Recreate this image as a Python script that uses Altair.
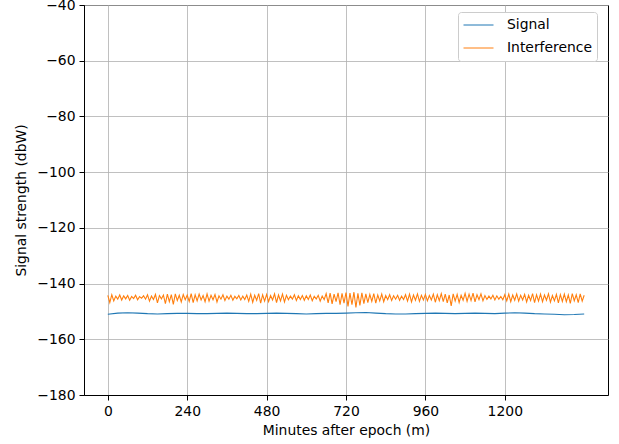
import altair as alt
import pandas as pd

# Signal sampled every 30 minutes (dBW)
signal_vals = [
    -151.0, -150.6, -150.5, -150.6, -150.8, -150.9, -150.8, -150.7, -150.7, -150.8,
    -150.8, -150.7, -150.6, -150.7, -150.8, -150.8, -150.7, -150.6, -150.7, -150.8,
    -150.9, -150.8, -150.7, -150.7, -150.6, -150.5, -150.4, -150.6, -150.8, -150.9,
    -150.9, -150.8, -150.7, -150.6, -150.7, -150.8, -150.7, -150.6, -150.7, -150.8,
    -150.6, -150.5, -150.6, -150.8, -150.9, -151.0, -151.2, -151.1, -150.9,
]
signal_step = 30

# Interference sampled every 6 minutes (dBW)
interf_vals = [
    -144.2, -146.8, -144.0, -146.2, -144.5, -145.6, -144.1, -145.9, -144.4, -145.5,
    -144.3, -146.0, -144.6, -145.4, -144.2, -145.8, -144.7, -145.3, -144.4, -145.6,
    -144.0, -146.3, -144.5, -145.7, -143.9, -146.9, -144.3, -145.5, -144.1, -147.2,
    -143.8, -146.5, -144.0, -147.5, -143.7, -146.1, -144.2, -146.6, -143.9, -145.8,
    -144.1, -146.4, -143.6, -146.8, -144.0, -146.2, -143.8, -145.9, -144.3, -146.5,
    -143.7, -146.3, -144.2, -145.8, -143.9, -146.6, -144.4, -145.6, -144.0, -146.1,
    -144.5, -145.6, -144.2, -146.0, -144.6, -145.5, -144.3, -145.9, -144.5, -145.7,
    -144.1, -146.4, -143.8, -146.7, -144.2, -146.0, -143.6, -147.0, -144.0, -146.3,
    -143.9, -146.5, -144.3, -145.9, -143.7, -146.8, -144.1, -146.2, -143.8, -146.6,
    -144.2, -145.8, -144.5, -145.6, -144.0, -146.1, -144.4, -145.7, -144.3, -146.0,
    -144.4, -145.7, -144.1, -146.2, -144.6, -145.5, -144.2, -146.3, -144.5, -145.8,
    -143.6, -146.9, -143.4, -147.3, -143.8, -146.5, -143.3, -147.6, -143.5, -147.0,
    -143.2, -148.2, -143.4, -147.6, -143.1, -148.6, -143.5, -147.8, -143.3, -147.2,
    -143.7, -146.8, -143.9, -146.4, -143.6, -147.0, -144.1, -146.2, -143.8, -146.5,
    -144.3, -145.8, -144.0, -146.1, -144.4, -145.6, -144.2, -146.0, -144.5, -145.7,
    -144.0, -146.3, -143.8, -146.6, -144.1, -146.0, -143.7, -146.4, -144.2, -145.9,
    -143.9, -146.2, -144.3, -145.9, -143.8, -146.7, -144.0, -146.1, -143.6, -146.5,
    -143.8, -146.9, -144.1, -148.0, -143.7, -146.3, -143.9, -146.8, -144.2, -146.0,
    -143.5, -146.4, -143.8, -146.1, -143.4, -146.6, -144.0, -145.8, -143.7, -146.2,
    -144.3, -145.7, -144.5, -145.5, -144.2, -145.9, -144.4, -145.6, -144.6, -145.8,
    -144.0, -146.2, -143.8, -146.5, -144.1, -146.0, -143.7, -146.3, -144.2, -145.9,
    -143.9, -146.6, -144.2, -146.1, -143.6, -146.8, -144.0, -146.3, -143.8, -146.5,
    -144.1, -146.0, -143.7, -146.7, -144.3, -146.2, -143.9, -146.9, -144.0, -146.4,
    -143.8, -146.5, -144.1, -147.1, -143.6, -146.2, -144.0, -146.8, -143.7, -146.3,
    -144.2,
]
interf_step = 6

series_names = ["Signal", "Interference"]
series_colors = ["#1f77b4", "#ff7f0e"]
x_ticks = [0, 240, 480, 720, 960, 1200]
y_ticks = [-40, -60, -80, -100, -120, -140, -160, -180]

rows = []
for i, v in enumerate(signal_vals):
    rows.append({"t": i * signal_step, "v": v, "series": "Signal"})
for i, v in enumerate(interf_vals):
    rows.append({"t": i * interf_step, "v": v, "series": "Interference"})
df = pd.DataFrame(rows)

FONT = "DejaVu Sans"
FS = 13.9

chart = (
    alt.Chart(df)
    .mark_line(strokeWidth=1.1, clip=True)
    .encode(
        x=alt.X(
            "t:Q",
            scale=alt.Scale(domain=[-72, 1512], nice=False, zero=False),
            axis=alt.Axis(values=x_ticks, title="Minutes after epoch (m)", format="d"),
        ),
        y=alt.Y(
            "v:Q",
            scale=alt.Scale(domain=[-180, -40], nice=False, zero=False),
            axis=alt.Axis(values=y_ticks, title="Signal strength (dbW)", format="d"),
        ),
        color=alt.Color(
            "series:N",
            scale=alt.Scale(domain=series_names, range=series_colors),
            sort=series_names,
            legend=alt.Legend(
                title=None,
                orient="none",
                legendX=374,
                legendY=7,
                symbolType="stroke",
                symbolSize=900,
                symbolStrokeWidth=1,
                clipHeight=16,
                labelFontSize=FS,
                labelFont=FONT,
                labelColor="black",
                labelOffset=13,
                rowPadding=7,
                padding=5,
                strokeColor="#cccccc",
                fillColor="white",
                cornerRadius=3,
            ),
        ),
        order=alt.Order("t:Q"),
    )
    .properties(
        width=524,
        height=390,
        padding={"left": 84, "top": 5, "right": 11, "bottom": 49},
        autosize=alt.AutoSizeParams(type="none"),
    )
    .configure_view(stroke="black", strokeWidth=1)
    .configure_axis(
        labelFont=FONT,
        titleFont=FONT,
        labelFontSize=FS,
        titleFontSize=FS,
        titleFontWeight="normal",
        labelColor="black",
        titleColor="black",
        domainColor="black",
        tickColor="black",
        tickSize=5,
        labelPadding=4,
        grid=True,
        gridColor="#b0b0b0",
        gridWidth=0.8,
    )
    .configure_axisX(titlePadding=6)
    .configure_axisY(titlePadding=8)
)

chart.save("out.html", embed_options={"renderer": "svg", "actions": False})
